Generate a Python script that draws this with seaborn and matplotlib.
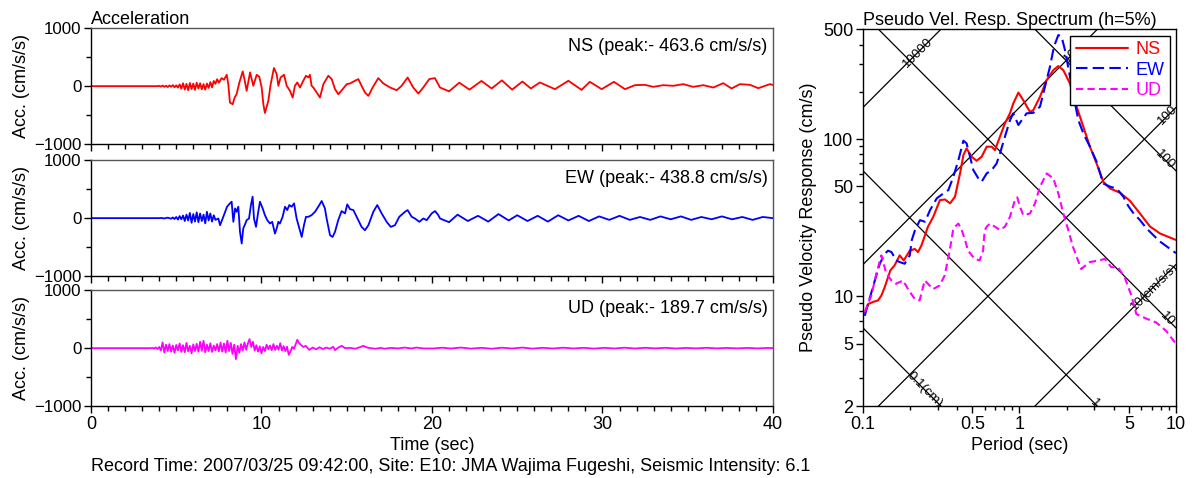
import numpy as np
import pandas as pd
import matplotlib
matplotlib.use("Agg")
import matplotlib.pyplot as plt
import seaborn as sns
from matplotlib.ticker import FixedLocator, FixedFormatter, NullFormatter

# ---------------- data ----------------
ns_pts = [(0.0, 0), (3.9, 0), (4.0, 5), (4.1, -8), (4.2, 10), (4.3, -12), (4.4, 8), (4.5, -15),
          (4.6, 12), (4.7, -10), (4.8, 18), (4.9, -20), (5.0, 15), (5.1, -25), (5.2, 30), (5.3, -45),
          (5.4, 50), (5.5, -60), (5.6, 40), (5.7, -70), (5.8, 55), (5.9, -50), (6.0, 45), (6.1, -65),
          (6.2, 60), (6.3, -40), (6.4, 50), (6.5, -55), (6.6, 35), (6.7, -60), (6.8, 45), (6.9, -30),
          (7.0, 70), (7.1, -20), (7.2, 90), (7.3, 40), (7.4, 120), (7.5, 60), (7.66, 139), (7.8, 110),
          (7.96, 197), (8.05, 40), (8.15, -284), (8.31, -313), (8.42, -200), (8.54, -139), (8.7, 60),
          (8.9, 255), (9.0, 120), (9.13, -81), (9.33, 238), (9.52, 6), (9.72, 197), (9.87, 162),
          (10.01, -23), (10.11, -313), (10.2, -464), (10.4, -255), (10.54, 35), (10.73, 313),
          (10.89, 209), (10.99, 6), (11.12, 150), (11.32, 197), (11.48, 6), (11.67, -81), (11.83, -197),
          (11.96, 6), (12.1, 64), (12.26, -23), (12.45, 93), (12.61, 180), (12.75, 150), (12.84, 197),
          (12.94, 6), (13.04, -23), (13.24, -110), (13.43, -197), (13.63, 35), (13.92, 180), (14.12, 122),
          (14.31, -52), (14.51, -139), (14.76, -52), (15.0, 35), (15.19, 46), (15.48, 93), (15.68, 122),
          (15.87, 6), (16.07, -110), (16.27, -168), (16.52, -23), (16.85, 139), (17.15, 46), (17.54, -23),
          (17.93, -70), (18.22, 6), (18.57, 150), (18.9, -23), (19.2, -128), (19.49, -23), (19.84, 122),
          (20.17, 139), (20.47, -23), (21.0, -90), (21.6, 60), (22.2, -60), (22.9, 90), (23.5, -40),
          (24.1, 100), (24.7, -60), (25.3, 80), (25.8, -40), (26.33, 64), (27.21, -52), (28.0, 93),
          (28.77, -64), (29.26, 75), (29.95, -52), (30.67, 75), (31.32, -52), (31.9, 17), (32.49, 23),
          (32.98, -12), (33.56, 17), (34.15, 6), (34.74, 35), (35.32, -12), (35.91, 17), (36.5, -23),
          (37.08, 52), (37.57, -40), (38.06, 35), (38.65, 23), (39.14, -35), (39.82, 35), (40.0, 20)]

ew_pts = [(0.0, 0), (4.0, 0), (4.1, 3), (4.3, -5), (4.5, 8), (4.7, -10), (4.8, 12), (4.9, -15),
          (5.0, 20), (5.1, -25), (5.2, 35), (5.3, -20), (5.4, 45), (5.5, -50), (5.6, 60), (5.7, -40),
          (5.8, 90), (5.9, -80), (6.0, 70), (6.1, -60), (6.2, 100), (6.3, -70), (6.4, 80), (6.5, -50),
          (6.6, 60), (6.7, -90), (6.8, 110), (6.9, -40), (7.0, 80), (7.1, -60), (7.2, 50), (7.3, -30),
          (7.47, -6), (7.57, -122), (7.76, 23), (7.98, 197), (8.15, 255), (8.25, 284), (8.35, -64),
          (8.45, 168), (8.54, 110), (8.64, 197), (8.74, -238), (8.84, -439), (8.93, -180), (9.03, -110),
          (9.13, -35), (9.27, -6), (9.38, 226), (9.48, 371), (9.56, -6), (9.68, -151), (9.81, 110),
          (9.91, 284), (10.07, 168), (10.2, 52), (10.34, -35), (10.5, -93), (10.63, -64), (10.79, -267),
          (10.89, -180), (10.99, -64), (11.08, -93), (11.24, 23), (11.38, 197), (11.51, 139), (11.63, 226),
          (11.77, 197), (11.91, 255), (12.06, -6), (12.22, -180), (12.36, -325), (12.49, -122),
          (12.61, 23), (12.75, 23), (12.94, 52), (13.14, 110), (13.33, 197), (13.53, 296), (13.72, 168),
          (13.82, -6), (14.02, -296), (14.17, -325), (14.31, -238), (14.5, -35), (14.7, 122), (14.9, 81),
          (15.03, 238), (15.19, 156), (15.39, 139), (15.58, 23), (15.87, -151), (16.07, -209),
          (16.27, -122), (16.56, 110), (16.79, 226), (17.05, 81), (17.34, -64), (17.58, -151),
          (17.83, -122), (18.08, 23), (18.42, 110), (18.57, 139), (18.81, 23), (19.0, -6), (19.26, -64),
          (19.49, -6), (19.69, -35), (19.98, 81), (20.18, 122), (20.37, 52), (20.47, -6), (21.0, -70),
          (21.5, 60), (22.1, -50), (22.7, 40), (23.3, -60), (23.9, 70), (24.5, -40), (25.0, 50),
          (25.6, -50), (26.2, 40), (26.8, -60), (27.4, 50), (28.0, -40), (28.6, 40), (29.2, -50),
          (29.8, 30), (30.4, -30), (31.0, 40), (31.6, -30), (32.2, 20), (32.8, -30), (33.4, 30),
          (34.0, -20), (34.6, 30), (35.2, -30), (35.8, 20), (36.4, -20), (37.0, 30), (37.6, -20),
          (38.2, 20), (38.8, -30), (39.4, 20), (40.0, 0)]

ud_pts = [(0.0, 0), (3.5, 0), (3.6, 5), (3.7, -8), (3.8, 12), (3.9, -15), (4.0, 20), (4.1, -40),
          (4.2, 100), (4.3, -75), (4.4, 60), (4.5, -50), (4.6, 70), (4.7, -60), (4.8, 45), (4.9, -80),
          (5.0, 55), (5.1, -40), (5.2, 80), (5.3, -65), (5.4, 50), (5.5, -70), (5.6, 90), (5.7, -55),
          (5.8, 40), (5.9, -90), (6.0, 65), (6.1, -50), (6.2, 75), (6.3, -60), (6.4, 110), (6.5, -45),
          (6.6, 128), (6.7, -70), (6.8, 60), (6.9, -50), (7.0, 85), (7.1, -65), (7.2, 45), (7.3, -40),
          (7.4, 70), (7.5, -55), (7.6, 95), (7.7, -60), (7.8, 80), (7.9, -75), (8.0, 128), (8.1, -50),
          (8.2, 90), (8.3, -100), (8.4, 60), (8.5, -190), (8.6, 40), (8.7, -80), (8.8, 70), (8.9, -40),
          (9.0, 100), (9.1, -30), (9.2, 80), (9.3, 157), (9.4, 20), (9.5, 110), (9.6, -40), (9.7, 50),
          (9.8, -60), (9.9, 30), (10.0, -90), (10.1, 20), (10.2, -50), (10.3, 60), (10.4, -20),
          (10.5, 45), (10.6, -35), (10.7, 70), (10.8, -30), (10.9, 40), (11.0, -25), (11.1, 85),
          (11.2, -40), (11.3, 35), (11.4, -50), (11.5, 25), (11.6, -116), (11.7, -60), (11.8, 20),
          (11.9, -10), (12.0, 60), (12.1, 145), (12.2, 90), (12.3, 60), (12.45, 20), (12.6, 40),
          (12.8, -30), (13.0, 10), (13.2, -20), (13.4, 15), (13.6, -15), (13.8, 10), (14.0, -10),
          (14.21, 23), (14.31, -35), (14.5, 10), (14.7, 40), (14.9, 0), (15.2, 5), (15.5, -10),
          (15.8, 20), (15.97, 40), (16.2, 10), (16.4, 0), (16.7, -10), (17.0, 5), (17.2, -10),
          (17.6, 5), (18.0, -5), (18.4, 10), (18.8, -5), (19.1, 10), (19.5, -5), (20.1, -5), (20.6, 8),
          (21.1, -6), (21.7, 10), (22.3, -8), (22.9, 6), (23.5, -10), (24.1, 8), (24.7, -6), (25.3, 10),
          (25.9, -8), (26.5, 6), (27.1, -6), (27.7, 8), (28.3, -6), (28.9, 6), (29.5, -8), (30.1, 6),
          (30.7, -6), (31.3, 8), (31.9, -6), (32.5, 6), (33.1, -4), (33.7, 6), (34.3, -6), (34.9, 4),
          (35.5, -4), (36.1, 6), (36.7, -4), (37.3, 4), (37.9, -4), (38.5, 4), (39.1, -4), (39.7, 4),
          (40.0, 0)]

peak_labels = ["NS (peak:- 463.6 cm/s/s)", "EW (peak:- 438.8 cm/s/s)", "UD (peak:- 189.7 cm/s/s)"]

# pseudo velocity response spectra (period sec, cm/s)
ns_psv = [(0.1025, 7.9), (0.1076, 8.9), (0.1159, 9.2), (0.1247, 9.4), (0.131, 10.1), (0.1375, 11.4),
          (0.1445, 13.2), (0.1495, 14.6), (0.159, 15.7), (0.1715, 18.2), (0.182, 16.9), (0.199, 19.5),
          (0.214, 20.0), (0.2245, 19.1), (0.236, 21.0), (0.243, 22.8), (0.26, 27.7), (0.281, 32.0),
          (0.310, 40.9), (0.334, 41.3), (0.360, 39.0), (0.387, 43.0), (0.417, 60.5), (0.438, 79.2),
          (0.459, 87.3), (0.494, 77.3), (0.532, 72.8), (0.573, 77.3), (0.617, 89.5), (0.664, 89.5),
          (0.697, 85.2), (0.750, 103.6), (0.807, 126), (0.869, 146), (0.913, 169), (0.984, 198),
          (1.057, 177), (1.167, 149), (1.225, 153), (1.352, 186), (1.492, 238), (1.645, 275),
          (1.771, 292), (1.905, 275), (2.102, 226), (2.318, 161), (2.557, 120), (2.820, 89.5),
          (3.11, 70), (3.43, 53.6), (3.79, 48.5), (4.39, 45.6), (5.08, 40.5), (5.89, 33.6),
          (6.82, 27.8), (7.90, 25.1), (10.0, 22.8)]

ew_psv = [(0.1025, 7.5), (0.110, 9.6), (0.119, 12.6), (0.128, 16.1), (0.1375, 18.6), (0.1445, 19.5),
          (0.152, 19.1), (0.163, 16.9), (0.1715, 16.5), (0.1845, 16.1), (0.199, 18.2), (0.205, 22.8),
          (0.215, 26.4), (0.231, 30.5), (0.249, 29.8), (0.268, 35.3), (0.296, 42.0), (0.326, 45.1),
          (0.351, 47.4), (0.378, 57.7), (0.407, 73.6), (0.438, 97.7), (0.459, 94), (0.483, 77.3),
          (0.507, 63.5), (0.546, 56.2), (0.573, 53.6), (0.617, 60.5), (0.664, 63.5), (0.714, 70),
          (0.750, 81), (0.807, 103.6), (0.869, 132), (0.913, 146), (0.984, 123), (1.033, 132),
          (1.111, 146), (1.225, 147), (1.352, 161), (1.455, 216), (1.566, 289), (1.660, 388),
          (1.771, 460), (1.858, 449), (1.953, 369), (2.102, 250), (2.264, 169), (2.377, 132),
          (2.557, 109), (2.820, 89.5), (3.11, 71.8), (3.43, 52.2), (3.79, 49.8), (4.18, 48.5),
          (4.61, 43), (4.96, 37.5), (5.33, 33.9), (5.89, 30.5), (6.49, 27.0), (7.16, 24.5),
          (7.90, 22.3), (10.0, 18.8)]

ud_psv = [(0.1025, 7.9), (0.113, 10.1), (0.1216, 13.9), (0.131, 18.2), (0.141, 13.9), (0.152, 12.6),
          (0.163, 12.0), (0.180, 12.6), (0.194, 11.1), (0.214, 9.6), (0.230, 9.4), (0.248, 12.6),
          (0.260, 12.0), (0.280, 11.1), (0.309, 11.7), (0.333, 13.6), (0.358, 19.5), (0.376, 26.2),
          (0.387, 27.7), (0.407, 29.0), (0.427, 26.4), (0.449, 22.8), (0.469, 19.5), (0.517, 17.3),
          (0.556, 16.9), (0.585, 19.5), (0.599, 26.2), (0.617, 27.7), (0.648, 29.0), (0.697, 27.7),
          (0.750, 26.4), (0.807, 27.7), (0.869, 32.0), (0.935, 40.9), (0.968, 42.6), (1.007, 37.1),
          (1.057, 32.8), (1.167, 33.6), (1.256, 39.0), (1.352, 49.8), (1.492, 60.5), (1.645, 56.2),
          (1.771, 45.1), (1.905, 33.6), (2.05, 26.4), (2.20, 20.5), (2.48, 14.9), (2.81, 16.5),
          (3.25, 16.9), (3.50, 17.3), (3.86, 15.3), (4.26, 15.3), (4.70, 13.2), (5.19, 10.1),
          (5.58, 7.7), (6.46, 7.2), (7.48, 6.8), (8.67, 6.0), (9.96, 5.0)]

acc_levels = [10, 100, 1000, 10000]
acc_texts = ["10(cm/s/s)", "100", "1000", "10000"]
disp_levels = [0.1, 1, 10, 100]
disp_texts = ["0.1(cm)", "1", "10", "100"]

components = ["NS", "EW", "UD"]
colors = {"NS": "#ff0000", "EW": "#0000ff", "UD": "#ff00ff"}

# ---------------- style ----------------
FS = 13
sns.set_theme(style="white")
plt.rcParams["font.family"] = ["Liberation Sans", "DejaVu Sans"]
plt.rcParams["font.size"] = FS
plt.rcParams["axes.edgecolor"] = "black"
plt.rcParams["text.color"] = "black"
plt.rcParams["axes.labelcolor"] = "black"
plt.rcParams["xtick.color"] = "black"
plt.rcParams["ytick.color"] = "black"

fig = plt.figure(figsize=(11.94, 4.78), dpi=100)
fig.patch.set_facecolor("white")

L, W, H = 0.0762, 0.5712, 0.2421
bottoms = [0.6987, 0.4226, 0.1506]
wave_data = {"NS": ns_pts, "EW": ew_pts, "UD": ud_pts}

for i, comp in enumerate(components):
    ax = fig.add_axes([L, bottoms[i], W, H])
    df = pd.DataFrame(wave_data[comp], columns=["t", "acc"])
    sns.lineplot(data=df, x="t", y="acc", ax=ax, color=colors[comp], lw=1.3,
                 estimator=None, sort=False)
    ax.set_xlim(0, 40)
    ax.set_ylim(-1000, 1000)
    ax.set_yticks([-1000, 0, 1000])
    ax.set_yticks([-500, 500], minor=True)
    ax.set_xticks([0, 10, 20, 30, 40])
    ax.set_xticks(np.arange(0, 41, 1), minor=True)
    ax.tick_params(axis="both", which="major", direction="out", length=5, width=1,
                   labelsize=FS, pad=2, bottom=True, left=True)
    ax.tick_params(axis="y", which="major", labelsize=12.2)
    ax.tick_params(axis="both", which="minor", direction="out", length=3.5, width=1,
                   bottom=True, left=True)
    ax.set_ylabel("Acc. (cm/s/s)", fontsize=FS, labelpad=3)
    for s in ["left", "bottom"]:
        ax.spines[s].set_color("black")
        ax.spines[s].set_linewidth(1.0)
    for s in ["top", "right"]:
        ax.spines[s].set_color("#555555")
        ax.spines[s].set_linewidth(1.0)
    ax.text(0.992, 0.841, peak_labels[i], transform=ax.transAxes, ha="right",
            va="center", fontsize=FS)
    if i < 2:
        ax.set_xticklabels([])
        ax.set_xlabel("")
    else:
        ax.set_xlabel("Time (sec)", fontsize=FS, labelpad=3)
    if i == 0:
        ax.set_title("Acceleration", loc="left", fontsize=FS, pad=2)

fig.text(0.0762, 0.025, "Record Time: 2007/03/25 09:42:00, Site: E10: JMA Wajima Fugeshi, "
         "Seismic Intensity: 6.1", ha="left", va="center", fontsize=FS)

# ---------------- spectrum ----------------
axs = fig.add_axes([0.7228, 0.1506, 0.2621, 0.788])
axs.set_xscale("log")
axs.set_yscale("log")
Tmin, Tmax, Vmin, Vmax = 0.1, 10.0, 2.0, 500.0
axs.set_xlim(Tmin, Tmax)
axs.set_ylim(Vmin, Vmax)

Tg = np.array([Tmin, Tmax])
for A, txt in zip(acc_levels, acc_texts):
    axs.plot(Tg, A * Tg / (2 * np.pi), color="black", lw=0.9, zorder=1)
    Te = min(Tmax, Vmax * 2 * np.pi / A)
    Ve = A * Te / (2 * np.pi)
    k = 0.86 if Te < Tmax else 1.0
    axs.text(Te * k, Ve * k, txt, rotation=45, rotation_mode="anchor", ha="right",
             va="center", fontsize=9.5, clip_on=True, zorder=2)
for D, txt in zip(disp_levels, disp_texts):
    axs.plot(Tg, 2 * np.pi * D / Tg, color="black", lw=0.9, zorder=1)
    Te = min(Tmax, np.pi * D * 2 / Vmin)
    Ve = 2 * np.pi * D / Te
    k = 0.95 if Te >= Tmax else 1.0
    axs.text(Te * k, Ve / k, txt, rotation=-45, rotation_mode="anchor", ha="right",
             va="center", fontsize=9.5, clip_on=False, zorder=2)

spec_data = {"NS": ns_psv, "EW": ew_psv, "UD": ud_psv}
styles = {"NS": "-", "EW": (0, (5.5, 2.5)), "UD": (0, (3.5, 2.0))}
for comp in components:
    df = pd.DataFrame(spec_data[comp], columns=["T", "V"])
    sns.lineplot(data=df, x="T", y="V", ax=axs, color=colors[comp], lw=1.5,
                 linestyle=styles[comp], estimator=None, sort=False, label=comp, zorder=3)

axs.xaxis.set_major_locator(FixedLocator([0.1, 0.5, 1, 5, 10]))
axs.xaxis.set_major_formatter(FixedFormatter(["0.1", "0.5", "1", "5", "10"]))
axs.xaxis.set_minor_locator(FixedLocator([0.2, 0.3, 0.4, 0.6, 0.7, 0.8, 0.9, 2, 3, 4, 6, 7, 8, 9]))
axs.xaxis.set_minor_formatter(NullFormatter())
axs.yaxis.set_major_locator(FixedLocator([2, 5, 10, 50, 100, 500]))
axs.yaxis.set_major_formatter(FixedFormatter(["2", "5", "10", "50", "100", "500"]))
axs.yaxis.set_minor_locator(FixedLocator([3, 4, 6, 7, 8, 9, 20, 30, 40, 60, 70, 80, 90,
                                          200, 300, 400]))
axs.yaxis.set_minor_formatter(NullFormatter())
axs.tick_params(axis="both", which="major", direction="out", length=5, width=1,
                labelsize=FS, pad=2, bottom=True, left=True)
axs.tick_params(axis="both", which="minor", direction="out", length=3, width=1,
                bottom=True, left=True)
for s in axs.spines.values():
    s.set_color("black")
    s.set_linewidth(1.0)
axs.set_xlabel("Period (sec)", fontsize=FS, labelpad=3)
axs.set_ylabel("Pseudo Velocity Response (cm/s)", fontsize=FS, labelpad=4)
axs.set_title("Pseudo Vel. Resp. Spectrum (h=5%)", loc="left", fontsize=FS, pad=2)

leg = axs.legend(loc="upper right", fontsize=FS, frameon=True, fancybox=False,
                 framealpha=1, edgecolor="black", handlelength=2.9, handletextpad=0.4,
                 borderpad=0.3, labelspacing=0.2, borderaxespad=0.35,
                 labelcolor="linecolor")
leg.get_frame().set_linewidth(1.0)
leg.set_zorder(10)

fig.savefig("out.png", dpi=100, facecolor="white")
